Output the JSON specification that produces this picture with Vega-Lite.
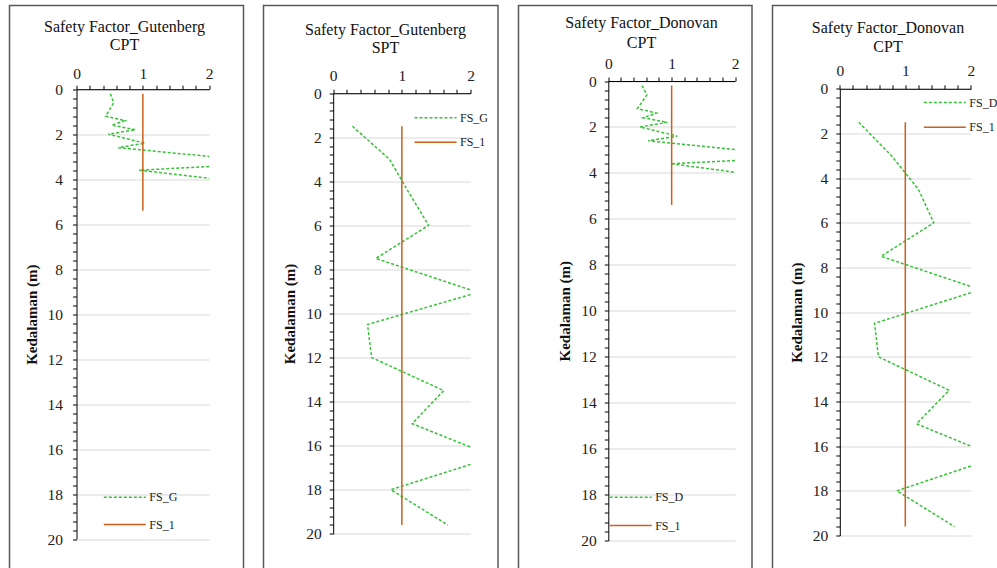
{
  "$schema": "https://vega.github.io/schema/vega-lite/v6.json",
  "background": "white",
  "padding": {"left": 8.5, "top": 4.5, "right": 0, "bottom": 0},
  "spacing": 20,
  "bounds": "flush",
  "data": {"values": [
    {"p": 1, "s": "FS_G", "d": 0.2, "v": 0.51},
    {"p": 1, "s": "FS_G", "d": 0.6, "v": 0.56},
    {"p": 1, "s": "FS_G", "d": 1.2, "v": 0.44},
    {"p": 1, "s": "FS_G", "d": 1.4, "v": 0.73},
    {"p": 1, "s": "FS_G", "d": 1.6, "v": 0.53},
    {"p": 1, "s": "FS_G", "d": 1.8, "v": 0.89},
    {"p": 1, "s": "FS_G", "d": 2.0, "v": 0.48},
    {"p": 1, "s": "FS_G", "d": 2.4, "v": 1.03},
    {"p": 1, "s": "FS_G", "d": 2.6, "v": 0.63},
    {"p": 1, "s": "FS_G", "d": 2.99, "v": 2.0},
    {"p": 1, "s": "FS_G", "d": 3.2, "v": null},
    {"p": 1, "s": "FS_G", "d": 3.44, "v": 2.0},
    {"p": 1, "s": "FS_G", "d": 3.6, "v": 0.945},
    {"p": 1, "s": "FS_G", "d": 3.96, "v": 2.0},
    {"p": 1, "s": "FS_G", "d": 4.2, "v": null},
    {"p": 1, "s": "FS_1", "d": 0.2, "v": 1},
    {"p": 1, "s": "FS_1", "d": 5.4, "v": 1},

    {"p": 2, "s": "FS_G", "d": 1.5, "v": 0.28},
    {"p": 2, "s": "FS_G", "d": 3.0, "v": 0.82},
    {"p": 2, "s": "FS_G", "d": 4.5, "v": 1.1},
    {"p": 2, "s": "FS_G", "d": 6.0, "v": 1.39},
    {"p": 2, "s": "FS_G", "d": 7.5, "v": 0.62},
    {"p": 2, "s": "FS_G", "d": 8.93, "v": 2.0},
    {"p": 2, "s": "FS_G", "d": 9.0, "v": null},
    {"p": 2, "s": "FS_G", "d": 9.14, "v": 2.0},
    {"p": 2, "s": "FS_G", "d": 10.5, "v": 0.5},
    {"p": 2, "s": "FS_G", "d": 12.0, "v": 0.56},
    {"p": 2, "s": "FS_G", "d": 13.5, "v": 1.61},
    {"p": 2, "s": "FS_G", "d": 15.0, "v": 1.15},
    {"p": 2, "s": "FS_G", "d": 16.07, "v": 2.0},
    {"p": 2, "s": "FS_G", "d": 16.5, "v": null},
    {"p": 2, "s": "FS_G", "d": 16.85, "v": 2.0},
    {"p": 2, "s": "FS_G", "d": 18.0, "v": 0.84},
    {"p": 2, "s": "FS_G", "d": 19.6, "v": 1.67},
    {"p": 2, "s": "FS_1", "d": 1.5, "v": 1},
    {"p": 2, "s": "FS_1", "d": 19.6, "v": 1},

    {"p": 3, "s": "FS_D", "d": 0.2, "v": 0.53},
    {"p": 3, "s": "FS_D", "d": 0.6, "v": 0.61},
    {"p": 3, "s": "FS_D", "d": 1.2, "v": 0.46},
    {"p": 3, "s": "FS_D", "d": 1.4, "v": 0.76},
    {"p": 3, "s": "FS_D", "d": 1.6, "v": 0.55},
    {"p": 3, "s": "FS_D", "d": 1.8, "v": 0.93},
    {"p": 3, "s": "FS_D", "d": 2.0, "v": 0.5},
    {"p": 3, "s": "FS_D", "d": 2.4, "v": 1.09},
    {"p": 3, "s": "FS_D", "d": 2.6, "v": 0.63},
    {"p": 3, "s": "FS_D", "d": 2.98, "v": 2.0},
    {"p": 3, "s": "FS_D", "d": 3.2, "v": null},
    {"p": 3, "s": "FS_D", "d": 3.46, "v": 2.0},
    {"p": 3, "s": "FS_D", "d": 3.6, "v": 0.985},
    {"p": 3, "s": "FS_D", "d": 3.97, "v": 2.0},
    {"p": 3, "s": "FS_D", "d": 4.2, "v": null},
    {"p": 3, "s": "FS_1", "d": 0.2, "v": 1},
    {"p": 3, "s": "FS_1", "d": 5.4, "v": 1},

    {"p": 4, "s": "FS_D", "d": 1.5, "v": 0.29},
    {"p": 4, "s": "FS_D", "d": 3.0, "v": 0.79},
    {"p": 4, "s": "FS_D", "d": 4.5, "v": 1.2},
    {"p": 4, "s": "FS_D", "d": 6.0, "v": 1.435},
    {"p": 4, "s": "FS_D", "d": 7.5, "v": 0.63},
    {"p": 4, "s": "FS_D", "d": 8.85, "v": 2.0},
    {"p": 4, "s": "FS_D", "d": 9.0, "v": null},
    {"p": 4, "s": "FS_D", "d": 9.13, "v": 2.0},
    {"p": 4, "s": "FS_D", "d": 10.5, "v": 0.53},
    {"p": 4, "s": "FS_D", "d": 12.0, "v": 0.59},
    {"p": 4, "s": "FS_D", "d": 13.5, "v": 1.67},
    {"p": 4, "s": "FS_D", "d": 15.0, "v": 1.17},
    {"p": 4, "s": "FS_D", "d": 16.0, "v": 2.0},
    {"p": 4, "s": "FS_D", "d": 16.5, "v": null},
    {"p": 4, "s": "FS_D", "d": 16.89, "v": 2.0},
    {"p": 4, "s": "FS_D", "d": 18.0, "v": 0.87},
    {"p": 4, "s": "FS_D", "d": 19.6, "v": 1.75},
    {"p": 4, "s": "FS_1", "d": 1.5, "v": 1},
    {"p": 4, "s": "FS_1", "d": 19.6, "v": 1}
  ]},
  "resolve": {
    "scale": {"color": "independent", "strokeDash": "independent", "x": "independent", "y": "independent"},
    "legend": {"color": "independent", "strokeDash": "independent"}
  },
  "hconcat": [
    {
      "width": 234, "height": 570,
      "transform": [{"filter": "datum.p === 1"}],
      "mark": {"type": "line", "strokeWidth": 1.5, "strokeCap": "butt"},
      "encoding": {
        "x": {"field": "v", "type": "quantitative",
          "scale": {"domain": [0, 2], "range": [67, 199.7], "nice": false, "zero": false},
          "axis": {"orient": "top", "offset": -83.7, "values": [0,0.2,0.4,0.6,0.8,1,1.2,1.4,1.6,1.8,2], "format": ".0f",
            "labelExpr": "datum.value % 1 === 0 ? datum.label : ''", "grid": false, "labelPadding": 4,
            "labelFont": "Liberation Serif", "titleFont": "Liberation Serif",
            "title": ["Safety Factor_Gutenberg", "CPT"], "titleX": 114.5, "titleY": -58, "titleLineHeight": 18}},
        "y": {"field": "d", "type": "quantitative",
          "scale": {"domain": [0, 20], "range": [83.7, 533.5], "nice": false, "zero": false},
          "axis": {"orient": "left", "offset": -67, "values": [0,0.4,0.8,1.2,1.6,2,2.4,2.8,3.2,3.6,4,4.4,4.8,5.2,5.6,6,6.4,6.8,7.2,7.6,8,8.4,8.8,9.2,9.6,10,10.4,10.8,11.2,11.6,12,12.4,12.8,13.2,13.6,14,14.4,14.8,15.2,15.6,16,16.4,16.8,17.2,17.6,18,18.4,18.8,19.2,19.6,20], "format": ".0f",
            "labelExpr": "datum.value % 2 === 0 ? datum.label : ''", "grid": true,
            "gridOpacity": {"condition": {"test": "datum.value % 2 === 0", "value": 1}, "value": 0},
            "labelFont": "Liberation Serif", "titleFont": "Liberation Serif",
            "labelPadding": 10, "title": "Kedalaman  (m)", "titleX": -45}},
        "color": {"field": "s", "type": "nominal",
          "scale": {"domain": ["FS_G", "FS_1"], "range": ["#36c236", "#cc5f1a"]},
          "legend": {"orient": "none", "legendX": 94.3, "legendY": 485.7, "rowPadding": 15.3}},
        "strokeDash": {"field": "s", "type": "nominal",
          "scale": {"domain": ["FS_G", "FS_1"], "range": [[3, 2], [1, 0]]},
          "legend": {"orient": "none", "legendX": 94.3, "legendY": 485.7, "rowPadding": 15.3}},
        "order": {"field": "d", "type": "quantitative"}
      }
    },
    {
      "width": 234.5, "height": 570,
      "transform": [{"filter": "datum.p === 2"}],
      "mark": {"type": "line", "strokeWidth": 1.5, "strokeCap": "butt"},
      "encoding": {
        "x": {"field": "v", "type": "quantitative",
          "scale": {"domain": [0, 2], "range": [69.7, 207], "nice": false, "zero": false},
          "axis": {"orient": "top", "offset": -87.7, "values": [0,0.2,0.4,0.6,0.8,1,1.2,1.4,1.6,1.8,2], "format": ".0f",
            "labelExpr": "datum.value % 1 === 0 ? datum.label : ''", "grid": false, "labelPadding": 6,
            "labelFont": "Liberation Serif", "titleFont": "Liberation Serif",
            "title": ["Safety Factor_Gutenberg", "SPT"], "titleX": 121.5, "titleY": -58.7, "titleLineHeight": 18}},
        "y": {"field": "d", "type": "quantitative",
          "scale": {"domain": [0, 20], "range": [87.7, 528.3], "nice": false, "zero": false},
          "axis": {"orient": "left", "offset": -69.7, "values": [0,0.4,0.8,1.2,1.6,2,2.4,2.8,3.2,3.6,4,4.4,4.8,5.2,5.6,6,6.4,6.8,7.2,7.6,8,8.4,8.8,9.2,9.6,10,10.4,10.8,11.2,11.6,12,12.4,12.8,13.2,13.6,14,14.4,14.8,15.2,15.6,16,16.4,16.8,17.2,17.6,18,18.4,18.8,19.2,19.6,20], "format": ".0f",
            "labelExpr": "datum.value % 2 === 0 ? datum.label : ''", "grid": true,
            "gridOpacity": {"condition": {"test": "datum.value % 2 === 0", "value": 1}, "value": 0},
            "labelFont": "Liberation Serif", "titleFont": "Liberation Serif",
            "labelPadding": 8, "title": "Kedalaman  (m)", "titleX": -43.4}},
        "color": {"field": "s", "type": "nominal",
          "scale": {"domain": ["FS_G", "FS_1"], "range": ["#36c236", "#cc5f1a"]},
          "legend": {"orient": "none", "legendX": 151, "legendY": 106.3, "rowPadding": 12.4}},
        "strokeDash": {"field": "s", "type": "nominal",
          "scale": {"domain": ["FS_G", "FS_1"], "range": [[3, 2], [1, 0]]},
          "legend": {"orient": "none", "legendX": 151, "legendY": 106.3, "rowPadding": 12.4}},
        "order": {"field": "d", "type": "quantitative"}
      }
    },
    {
      "width": 233.5, "height": 570,
      "transform": [{"filter": "datum.p === 3"}],
      "mark": {"type": "line", "strokeWidth": 1.5, "strokeCap": "butt"},
      "encoding": {
        "x": {"field": "v", "type": "quantitative",
          "scale": {"domain": [0, 2], "range": [89.8, 216.5], "nice": false, "zero": false},
          "axis": {"orient": "top", "offset": -75.5, "values": [0,0.2,0.4,0.6,0.8,1,1.2,1.4,1.6,1.8,2], "format": ".0f",
            "labelExpr": "datum.value % 1 === 0 ? datum.label : ''", "grid": false, "labelPadding": 6,
            "labelFont": "Liberation Serif", "titleFont": "Liberation Serif",
            "title": ["Safety Factor_Donovan", "CPT"], "titleX": 122.5, "titleY": -53.2, "titleLineHeight": 19.5}},
        "y": {"field": "d", "type": "quantitative",
          "scale": {"domain": [0, 20], "range": [75.5, 535], "nice": false, "zero": false},
          "axis": {"orient": "left", "offset": -89.8, "values": [0,0.4,0.8,1.2,1.6,2,2.4,2.8,3.2,3.6,4,4.4,4.8,5.2,5.6,6,6.4,6.8,7.2,7.6,8,8.4,8.8,9.2,9.6,10,10.4,10.8,11.2,11.6,12,12.4,12.8,13.2,13.6,14,14.4,14.8,15.2,15.6,16,16.4,16.8,17.2,17.6,18,18.4,18.8,19.2,19.6,20], "format": ".0f",
            "labelExpr": "datum.value % 2 === 0 ? datum.label : ''", "grid": true,
            "gridOpacity": {"condition": {"test": "datum.value % 2 === 0", "value": 1}, "value": 0},
            "labelFont": "Liberation Serif", "titleFont": "Liberation Serif",
            "labelPadding": 8, "title": "Kedalaman  (m)", "titleX": -44.3}},
        "color": {"field": "s", "type": "nominal",
          "scale": {"domain": ["FS_D", "FS_1"], "range": ["#36c236", "#cc5f1a"]},
          "legend": {"orient": "none", "legendX": 91.2, "legendY": 485.7, "rowPadding": 16.3}},
        "strokeDash": {"field": "s", "type": "nominal",
          "scale": {"domain": ["FS_D", "FS_1"], "range": [[3, 2], [1, 0]]},
          "legend": {"orient": "none", "legendX": 91.2, "legendY": 485.7, "rowPadding": 16.3}},
        "order": {"field": "d", "type": "quantitative"}
      }
    },
    {
      "width": 235, "height": 570,
      "transform": [{"filter": "datum.p === 4"}],
      "mark": {"type": "line", "strokeWidth": 1.5, "strokeCap": "butt"},
      "encoding": {
        "x": {"field": "v", "type": "quantitative",
          "scale": {"domain": [0, 2], "range": [67.3, 198.3], "nice": false, "zero": false},
          "axis": {"orient": "top", "offset": -83.3, "values": [0,0.2,0.4,0.6,0.8,1,1.2,1.4,1.6,1.8,2], "format": ".0f",
            "labelExpr": "datum.value % 1 === 0 ? datum.label : ''", "grid": false, "labelPadding": 6,
            "labelFont": "Liberation Serif", "titleFont": "Liberation Serif",
            "title": ["Safety Factor_Donovan", "CPT"], "titleX": 115, "titleY": -56.6, "titleLineHeight": 19.5}},
        "y": {"field": "d", "type": "quantitative",
          "scale": {"domain": [0, 20], "range": [83.3, 530], "nice": false, "zero": false},
          "axis": {"orient": "left", "offset": -67.3, "values": [0,0.4,0.8,1.2,1.6,2,2.4,2.8,3.2,3.6,4,4.4,4.8,5.2,5.6,6,6.4,6.8,7.2,7.6,8,8.4,8.8,9.2,9.6,10,10.4,10.8,11.2,11.6,12,12.4,12.8,13.2,13.6,14,14.4,14.8,15.2,15.6,16,16.4,16.8,17.2,17.6,18,18.4,18.8,19.2,19.6,20], "format": ".0f",
            "labelExpr": "datum.value % 2 === 0 ? datum.label : ''", "grid": true,
            "gridOpacity": {"condition": {"test": "datum.value % 2 === 0", "value": 1}, "value": 0},
            "labelFont": "Liberation Serif", "titleFont": "Liberation Serif",
            "labelPadding": 8, "title": "Kedalaman (m)", "titleX": -43.3}},
        "color": {"field": "s", "type": "nominal",
          "scale": {"domain": ["FS_D", "FS_1"], "range": ["#36c236", "#cc5f1a"]},
          "legend": {"orient": "none", "legendX": 151.3, "legendY": 91, "rowPadding": 12.7}},
        "strokeDash": {"field": "s", "type": "nominal",
          "scale": {"domain": ["FS_D", "FS_1"], "range": [[3, 2], [1, 0]]},
          "legend": {"orient": "none", "legendX": 151.3, "legendY": 91, "rowPadding": 12.7}},
        "order": {"field": "d", "type": "quantitative"}
      }
    }
  ],
  "config": {
    "font": "Liberation Serif",
    "view": {"stroke": "#595959", "strokeWidth": 1.5},
    "axis": {
      "domainColor": "#000000", "domainWidth": 1, "tickColor": "#000000", "tickWidth": 1, "tickSize": 4,
      "labelFont": "Liberation Serif", "labelFontSize": 15.5, "labelColor": "#222222",
      "labelOverlap": false, "labelFlush": false, "labelBound": false,
      "gridColor": "#d9d9d9", "gridWidth": 1,
      "titleFont": "Liberation Serif", "titleColor": "#111111"
    },
    "axisX": {"titleFontSize": 16, "titleFontWeight": "normal", "titleAlign": "center", "titleBaseline": "alphabetic", "titleAngle": 0},
    "axisY": {"titleFontSize": 15, "titleFontWeight": "bold", "titleAlign": "center", "titleBaseline": "middle", "titleAngle": 270},
    "legend": {
      "title": null, "padding": 0, "offset": 0,
      "symbolType": "M-1.2,0H7.2", "symbolSize": 100, "symbolStrokeWidth": 1.5,
      "labelOffset": 33.5, "labelFont": "Liberation Serif", "labelFontSize": 12, "labelColor": "#222222"
    }
  }
}
